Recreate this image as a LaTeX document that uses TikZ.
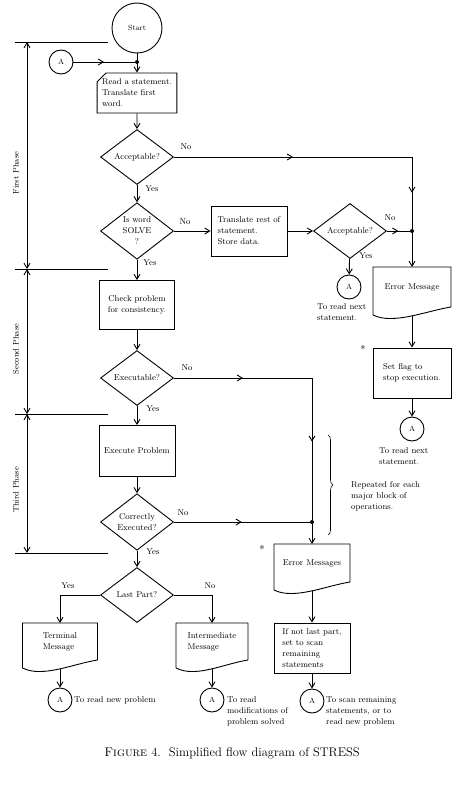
\documentclass[tikz,border=0pt]{standalone}
\usepackage{tikz}
\usetikzlibrary{shapes.geometric}
\usetikzlibrary{shapes.misc}
\usetikzlibrary{arrows.meta}
\usetikzlibrary{decorations.markings}
\usetikzlibrary{decorations.pathreplacing}
\usetikzlibrary{calc}

\tikzset{
  barb/.tip={Straight Barb[length=5pt,width=6pt]},
  flow/.style={-barb},
  phasespan/.style={barb-barb},
  midarrow/.style={postaction={decorate},decoration={markings,mark=at position #1 with {\arrow{barb}}}},
  midarrow/.default=0.5,
  procbox/.style={draw,rectangle,minimum width=76,minimum height=50,align=left,inner sep=1pt},
  cardbox/.style={draw,chamfered rectangle,chamfered rectangle corners=north west,chamfered rectangle xsep=4pt,chamfered rectangle ysep=5pt,minimum width=75,minimum height=38,align=left,inner sep=1pt},
  decision/.style={draw,diamond,minimum width=73,minimum height=55,align=center,inner sep=0pt},
  docbox/.style={rectangle,minimum width=76,minimum height=40,align=left,inner sep=1pt,outer sep=0pt},
  connA/.style={draw,circle,minimum size=24,inner sep=0pt,font=\fontsize{7.5}{8}\selectfont},
  jdot/.style={circle,fill,inner sep=0pt,minimum size=4pt},
  lbl/.style={inner sep=0.75pt,align=left},
  starlbl/.style={inner sep=0.75pt,font=\fontsize{11}{12}\selectfont},
}

% document symbol: wavy bottom drawn below the node
\newcommand{\docshape}[1]{%
  \draw (#1.south east) -- (#1.north east) -- (#1.north west) -- ($(#1.south west)+(0,8)$)
    .. controls ($(#1.south west)+(20,18)$) and ($(#1.south east)+(-25,4)$) .. (#1.south east);
  \coordinate (#1 bottom) at ($(#1.south)+(0,9)$);}

\begin{document}
\begin{tikzpicture}[x=1pt,y=1pt,yscale=-1,xscale=1,line width=0.9pt,font=\fontsize{8.5}{11}\selectfont]
\useasboundingbox (0,0) rectangle (453,792);

%Phase scale
\draw (15,42) -- (108,42) ;
\draw (15,269) -- (108,269) ;
\draw (15,414) -- (108,414) ;
\draw (15,553) -- (108,553) ;
\coordinate (p0) at (27,42) ;
\coordinate (p1) at (27,269) ;
\coordinate (p2) at (27,414) ;
\coordinate (p3) at (27,553) ;
\draw [phasespan] (p0) -- (p1) ;
\draw [phasespan] (p1) -- (p2) ;
\draw [phasespan] (p2) -- (p3) ;
% Text Node
\node [lbl,rotate=90,font=\fontsize{8}{9}\selectfont] (ph1) at (16,173) {First Phase};
\node [lbl,rotate=90,font=\fontsize{8}{9}\selectfont] (ph2) at (16,349) {Second Phase};
\node [lbl,rotate=90,font=\fontsize{8}{9}\selectfont] (ph3) at (16,490) {Third Phase};

%First phase
\node [connA,minimum size=50] (start) at (137,28) {Start};
\node [jdot] (j0) at (137,62) {};
\node [connA] (a1) at (61,62) {A};
\node [cardbox] (read) at (137,93) {Read a statement.\\Translate first\\word.};
\node [decision] (acc1) at (137,157) {Acceptable?};
\node [decision,minimum height=56] (solve) at (137,231) {Is word\\SOLVE\\?};
\node [procbox] (trans) at (249,231) {Translate rest of\\statement.\\Store data.};
\node [decision] (acc2) at (350,231) {Acceptable?};
\coordinate (k1) at (412,157) ;
\node [jdot] (j1) at (412,231) {};
\node [connA] (a2) at (349,287) {A};
\node [docbox,minimum width=78,minimum height=40] (errmsg) at (412,287) {Error Message};
\docshape{errmsg}
\node [procbox,minimum width=78] (flag) at (412,373) {Set flag to\\stop execution.};
\node [connA] (a3) at (412,429) {A};

% Text Node
\node [lbl] (no1) at (186,147) {No};
\node [lbl] (yes1) at (152,189) {Yes};
\node [lbl] (no2) at (185,222) {No};
\node [lbl] (yes2) at (150,263) {Yes};
\node [lbl] (no3) at (390,218) {No};
\node [lbl] (yes3) at (366,256) {Yes};
\node [lbl,anchor=north west] (next1) at (316,302) {To read next\\statement.};
\node [starlbl] (star1) at (363,349) {*};
\node [lbl,anchor=north west] (next2) at (378,446) {To read next\\statement.};

%Second and third phase
\node [procbox,minimum width=75,minimum height=49,align=center] (check) at (137,305) {Check problem\\for consistency.};
\node [decision] (exec) at (137,378) {Executable?};
\coordinate (k2) at (312,378) ;
\node [procbox,minimum height=51,align=center] (run) at (137,451) {Execute Problem};
\node [decision] (corr) at (137,522) {Correctly\\Executed?};
\node [jdot] (j2) at (312,522) {};
\node [docbox,minimum height=38] (errs) at (312,563) {Error Messages};
\docshape{errs}
\node [procbox] (ifnot) at (312,648) {If not last part,\\set to scan\\remaining\\statements};
\node [connA] (a4) at (312,701) {A};
\draw [decorate,decoration={brace,amplitude=5pt},line width=0.6pt] (328,435) -- (328,535) ;

% Text Node
\node [lbl] (no4) at (187,368) {No};
\node [lbl] (yes4) at (153,409) {Yes};
\node [lbl] (no5) at (183,513) {No};
\node [lbl] (yes5) at (153,552) {Yes};
\node [lbl,anchor=north west] (rep) at (350,480) {Repeated for each\\major block of\\operations.};
\node [starlbl] (star2) at (262,549) {*};
\node [lbl,anchor=north west] (scan) at (325,696) {To scan remaining\\statements, or to\\read new problem};

%End of problem
\node [decision] (last) at (137,595) {Last Part?};
\coordinate (k3) at (60,595) ;
\coordinate (k4) at (212,595) ;
\node [docbox,minimum width=75,minimum height=37] (term) at (60,641.5) {Terminal\\Message};
\docshape{term}
\node [docbox,minimum width=72,minimum height=37] (inter) at (212,641.5) {Intermediate\\Message};
\docshape{inter}
\node [connA] (a5) at (60,700) {A};
\node [connA] (a6) at (212,700) {A};

% Text Node
\node [lbl] (yes6) at (68,586) {Yes};
\node [lbl] (no6) at (210,586) {No};
\node [lbl,anchor=west] (newp) at (73,700) {To read new problem};
\node [lbl,anchor=north west] (modif) at (226,695) {To read\\modifications of\\problem solved};

%Connectors
\draw (start) -- (j0) ;
\draw [midarrow] (a1) -- (j0) ;
\draw [flow] (j0) -- (read) ;
\draw [flow] (read) -- (acc1) ;
\draw [midarrow] (acc1) -- (k1) ;
\draw [midarrow] (k1) -- (j1) ;
\draw [flow] (acc1) -- (solve) ;
\draw [flow] (solve) -- (trans) ;
\draw [flow] (trans) -- (acc2) ;
\draw [midarrow] (acc2) -- (j1) ;
\draw [flow] (j1) -- (errmsg) ;
\draw [flow] (acc2) -- (a2) ;
\draw [flow] (errmsg bottom) -- (flag) ;
\draw [flow] (flag) -- (a3) ;
\draw [flow] (solve) -- (check) ;
\draw [flow] (check) -- (exec) ;
\draw [midarrow] (exec) -- (k2) ;
\draw [midarrow=0.45] (k2) -- (j2) ;
\draw [flow] (exec) -- (run) ;
\draw [flow] (run) -- (corr) ;
\draw [midarrow] (corr) -- (j2) ;
\draw [flow] (j2) -- (errs) ;
\draw [flow] (errs bottom) -- (ifnot) ;
\draw [flow] (ifnot) -- (a4) ;
\draw [flow] (corr) -- (last) ;
\draw [flow] (last) -- (k3) -- (term) ;
\draw [flow] (last) -- (k4) -- (inter) ;
\draw [flow] (term bottom) -- (a5) ;
\draw [flow] (inter bottom) -- (a6) ;

% Caption
\node [font=\fontsize{12.5}{14}\selectfont] (cap) at (232,753) {\textsc{Figure} 4.\ \ Simplified flow diagram of STRESS};

\end{tikzpicture}
\end{document}
